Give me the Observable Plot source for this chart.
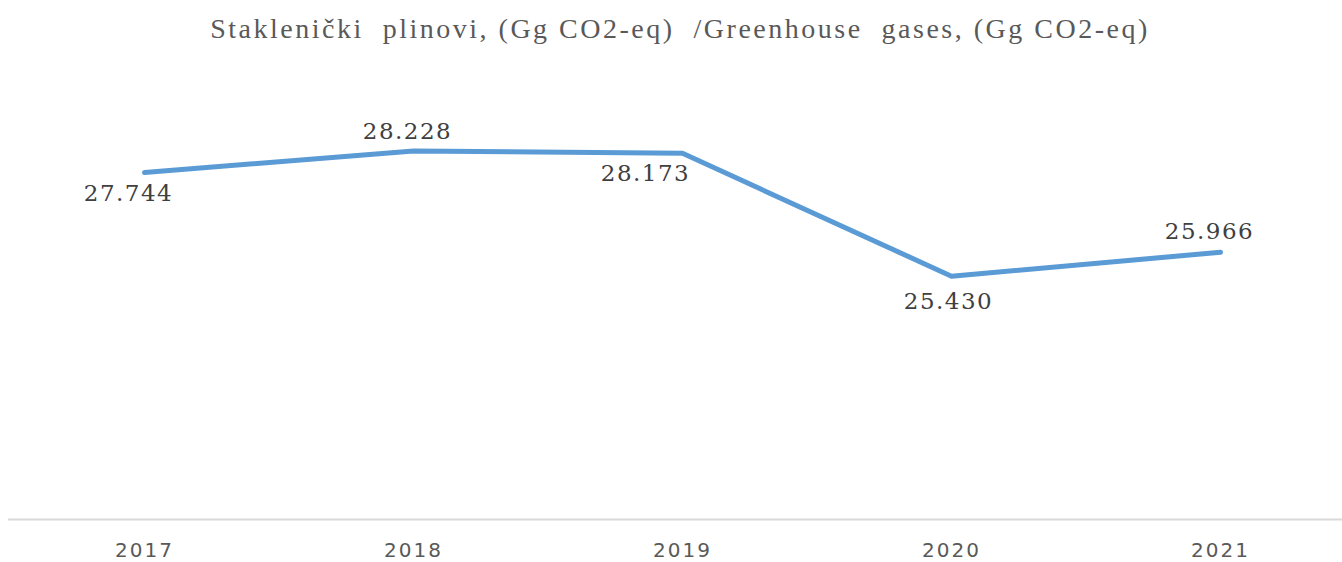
<!DOCTYPE html>
<html>
<head>
<meta charset="utf-8">
<script src="https://cdn.jsdelivr.net/npm/d3@7"></script>
<script src="https://cdn.jsdelivr.net/npm/@observablehq/plot@0.6"></script>
<style>
  html, body { margin: 0; padding: 0; background: #fff; }
  #wrap { width: 1342px; height: 562px; position: relative; overflow: hidden; }
  #title { height: 58px; line-height: 58px; text-align: center; padding-left: 18px;
           font-family: "Liberation Serif", serif; font-size: 28px; color: #595959;
           white-space: pre; letter-spacing: 2.5px; }
  #chart svg { display: block; }
</style>
</head>
<body>
<div id="wrap">
  <div id="title">Staklenički  plinovi, (Gg CO2-eq)  /Greenhouse  gases, (Gg CO2-eq)</div>
  <div id="chart"></div>
</div>
<script>
// Data
const years = ["2017", "2018", "2019", "2020", "2021"];
const emissions = [27744, 28228, 28173, 25430, 25966];
const yDomain = [20000, 30000];

// Label placement (layout only)
const labelOffsets = [[-16, 21], [-6, -19], [-37, 20], [-3, 25], [-11, -21]];

const fmt = d3.formatLocale({decimal: ",", thousands: ".", grouping: [3], currency: ["", ""]}).format(",d");
const rows = years.map((y, i) => ({year: y, value: emissions[i]}));

const labelMarks = rows.map((r, i) => Plot.text([r], {
  x: "year", y: "value", text: d => fmt(d.value),
  dx: labelOffsets[i][0], dy: labelOffsets[i][1],
  fontSize: 23, fill: "#404040", fontFamily: "DejaVu Serif",
  className: "dlabel"
}));

const chart = Plot.plot({
  width: 1342,
  height: 504,
  marginLeft: 8,
  marginRight: 0,
  marginTop: 0,
  marginBottom: 44,
  style: {background: "#fff", overflow: "visible"},
  x: {type: "point", domain: years, range: [143, 1220], padding: 0, label: null},
  y: {domain: yDomain, range: [461, 13], axis: null},
  marks: [
    Plot.ruleY([yDomain[0]], {stroke: "#d9d9d9", strokeWidth: 2}),
    Plot.axisX({tickSize: 0, tickPadding: 24, fontSize: 20, fill: "#595959",
                fontFamily: "DejaVu Sans", label: null}),
    Plot.line(rows, {x: "year", y: "value", stroke: "#5b9bd5", strokeWidth: 5,
                     strokeLinecap: "round", strokeLinejoin: "round"}),
    ...labelMarks
  ]
});
document.getElementById("chart").appendChild(chart);
d3.select(chart).selectAll('g[aria-label="x-axis tick label"] text').style("letter-spacing", "2px");
d3.select(chart).selectAll('.dlabel text').style("letter-spacing", "1.5px");
</script>
</body>
</html>
